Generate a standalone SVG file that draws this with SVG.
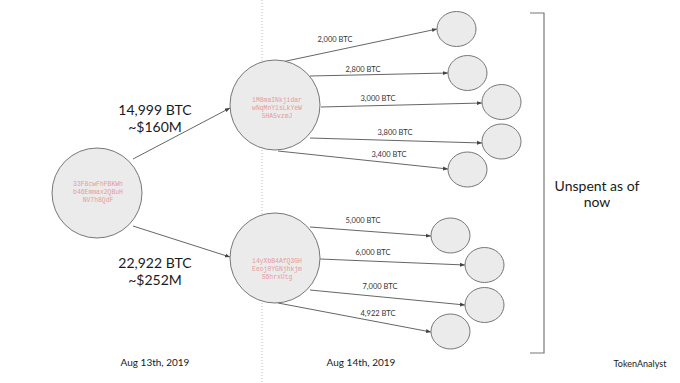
<svg xmlns="http://www.w3.org/2000/svg" width="680" height="383" viewBox="0 0 680 383">
<defs>
<marker id="ah" viewBox="0 0 10 10" refX="10" refY="5" markerWidth="5" markerHeight="5" orient="auto" markerUnits="userSpaceOnUse">
<path d="M0,1 L10,5 L0,9 z" fill="#444"/>
</marker>
</defs>
<style>
.c{fill:#ebebeb;stroke:#777;stroke-width:1}
.e{stroke:#555;stroke-width:0.9;fill:none;marker-end:url(#ah)}
.addr{font-family:"Liberation Mono","DejaVu Sans Mono",monospace;font-size:6.4px;fill:#e79a9a;text-anchor:middle}
.big{font-family:Lato,"Open Sans",sans-serif;font-size:14px;fill:#1a1a1a;text-anchor:middle}
.sm{font-family:Lato,"Open Sans",sans-serif;font-size:7.5px;fill:#333;text-anchor:middle}
.lb{font-family:Lato,"Open Sans",sans-serif;font-size:10px;fill:#1a1a1a;text-anchor:middle}
</style>
<rect width="680" height="383" fill="#fff"/>
<line x1="262" y1="0" x2="262" y2="383" stroke="#bbb" stroke-width="1" stroke-dasharray="1,2"/>
<g id="connectors">
<line class="e" x1="133" y1="159" x2="230" y2="108"/>
<line class="e" x1="133" y1="226" x2="230" y2="257"/>
<line class="e" x1="277" y1="63" x2="437" y2="29"/>
<line class="e" x1="310" y1="76" x2="448" y2="73"/>
<line class="e" x1="321" y1="107" x2="482" y2="103"/>
<line class="e" x1="310" y1="138" x2="482" y2="143"/>
<line class="e" x1="278" y1="151" x2="448" y2="169"/>
<line class="e" x1="310" y1="227" x2="431" y2="236"/>
<line class="e" x1="320" y1="259" x2="465" y2="265"/>
<line class="e" x1="310" y1="290" x2="465" y2="305"/>
<line class="e" x1="278" y1="303" x2="431" y2="332"/>
<text class="sm" x="335" y="42">2,000 BTC</text>
<text class="sm" x="363" y="72">2,800 BTC</text>
<text class="sm" x="378" y="101">3,000 BTC</text>
<text class="sm" x="395" y="135">3,800 BTC</text>
<text class="sm" x="389" y="157">3,400 BTC</text>
<text class="sm" x="363" y="223">5,000 BTC</text>
<text class="sm" x="373" y="255">6,000 BTC</text>
<text class="sm" x="380" y="289">7,000 BTC</text>
<text class="sm" x="378" y="316">4,922 BTC</text>
<text class="big" x="155" y="115">14,999 BTC</text>
<text class="big" x="155" y="132">~$160M</text>
<text class="big" x="155" y="268">22,922 BTC</text>
<text class="big" x="155" y="285">~$252M</text>
</g>
<g id="src">
<circle class="c" cx="97" cy="193" r="45"/>
<text class="addr" x="98" y="186">33F8cwFhFBKWh</text>
<text class="addr" x="98" y="194">b46Emmax2QBuH</text>
<text class="addr" x="98" y="202">NV7h8QdF</text>
</g>
<g id="mid1">
<circle class="c" cx="275" cy="105" r="45"/>
<text class="addr" x="277" y="102">1M8maINkjidar</text>
<text class="addr" x="277" y="110">wNqMnY1sLkYeW</text>
<text class="addr" x="277" y="118">5HA5vzmJ</text>
</g>
<g id="mid2">
<circle class="c" cx="275" cy="258" r="45"/>
<text class="addr" x="277" y="263">14yXbB4AfQ3GH</text>
<text class="addr" x="277" y="271">Eeoj0YGNjhkjm</text>
<text class="addr" x="277" y="279">S6hrxUtg</text>
</g>
<g id="o1"><ellipse class="c" cx="456.5" cy="29" rx="19.5" ry="17.5"/></g>
<g id="o2"><ellipse class="c" cx="467.5" cy="73" rx="19.5" ry="17.5"/></g>
<g id="o3"><ellipse class="c" cx="501.5" cy="102" rx="19.5" ry="17.5"/></g>
<g id="o4"><ellipse class="c" cx="501.5" cy="141.5" rx="19.5" ry="17.5"/></g>
<g id="o5"><ellipse class="c" cx="467.5" cy="169.5" rx="19.5" ry="17.5"/></g>
<g id="o6"><ellipse class="c" cx="450.5" cy="235.5" rx="19.5" ry="17.5"/></g>
<g id="o7"><ellipse class="c" cx="484.5" cy="265" rx="19.5" ry="17.5"/></g>
<g id="o8"><ellipse class="c" cx="484.5" cy="305" rx="19.5" ry="17.5"/></g>
<g id="o9"><ellipse class="c" cx="450.5" cy="331.5" rx="19.5" ry="17.5"/></g>
<g id="bracket">
<path d="M530,13 H544 V353 H530" fill="none" stroke="#777" stroke-width="1.2"/>
<text class="big" x="597" y="191" font-size="13">Unspent as of</text>
<text class="big" x="597" y="207" font-size="13">now</text>
</g>
<text class="lb" x="155" y="366">Aug 13th, 2019</text>
<text class="lb" x="361" y="366">Aug 14th, 2019</text>
<text x="640" y="367" font-family="Lato,'Open Sans',sans-serif" font-size="9" fill="#1a1a1a" text-anchor="middle">TokenAnalyst</text>
</svg>
